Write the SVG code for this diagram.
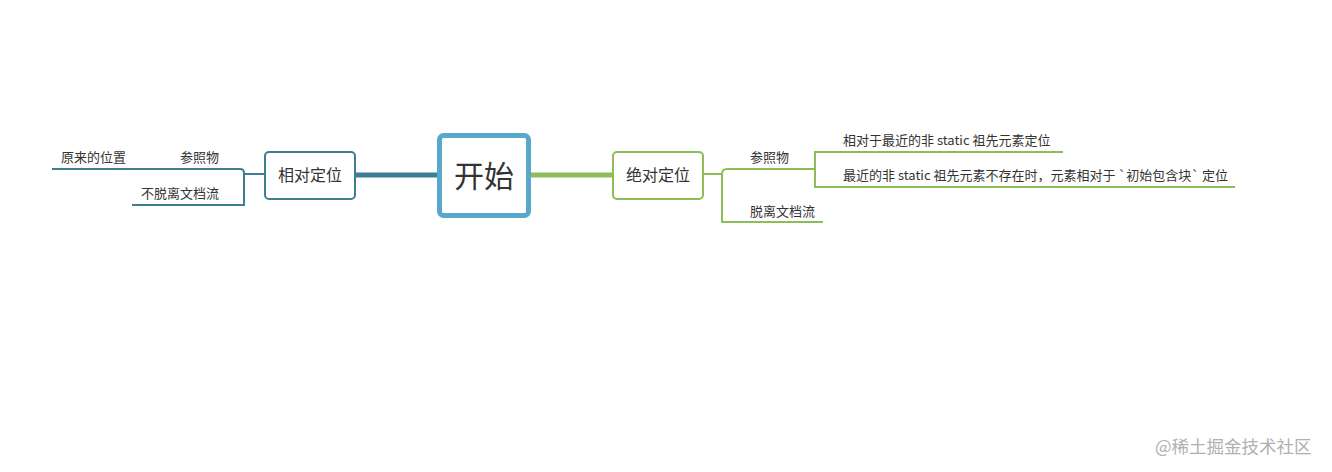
<svg xmlns="http://www.w3.org/2000/svg" width="1332" height="472" viewBox="0 0 1332 472">
<style>
.leaf{font-family:"Noto Sans CJK SC","Liberation Sans",sans-serif;font-size:13px;fill:#333}
.node{font-family:"Noto Sans CJK SC","Liberation Sans",sans-serif;font-size:16px;fill:#333;text-anchor:middle}
.big{font-size:30px}
.teal{stroke:#3f7d94;fill:none}
.green{stroke:#8cbd59;fill:none}
</style>
<rect width="1332" height="472" fill="#fff"/>
<g id="connectors" stroke-linecap="butt">
  <line x1="355" y1="175" x2="437" y2="175" class="teal" stroke-width="5"/>
  <line x1="531" y1="175" x2="613" y2="175" class="green" stroke-width="5"/>
  <path d="M264 174 H244 M52 169 H240 Q244 169 244 173 V205 H132" class="teal" stroke-width="2"/>
  <path d="M703 174 H722 M815 169 H727 Q722 169 722 174 V222 H823" class="green" stroke-width="2"/>
  <path d="M1063 152 H815 V187 H1235" class="green" stroke-width="2"/>
</g>
<g id="center">
  <rect x="439.5" y="135.5" width="89" height="80" rx="4" fill="#fff" stroke="#5aa7cc" stroke-width="5"/>
  <text x="484" y="187" class="node big">开始</text>
</g>
<g id="rel">
  <rect x="265" y="152" width="90" height="47" rx="4" fill="#fff" class="teal" stroke-width="2"/>
  <text x="310" y="181" class="node">相对定位</text>
</g>
<g id="abs">
  <rect x="613" y="152" width="90" height="47" rx="4" fill="#fff" class="green" stroke-width="2"/>
  <text x="658" y="181" class="node">绝对定位</text>
</g>
<g id="rel-ref"><text x="180" y="162" class="leaf">参照物</text></g>
<g id="rel-orig"><text x="61" y="162" class="leaf">原来的位置</text></g>
<g id="rel-flow"><text x="141" y="198" class="leaf">不脱离文档流</text></g>
<g id="abs-ref"><text x="750" y="162" class="leaf">参照物</text></g>
<g id="abs-ref1"><text x="843" y="145" class="leaf">相对于最近的非 static 祖先元素定位</text></g>
<g id="abs-ref2"><text x="843" y="180" class="leaf">最近的非 static 祖先元素不存在时，元素相对于 `初始包含块` 定位</text></g>
<g id="abs-flow"><text x="750" y="216" class="leaf">脱离文档流</text></g>
<text x="1155" y="453" font-family="Noto Sans CJK SC,sans-serif" font-size="17.5" fill="#b0b0b0">@稀土掘金技术社区</text>
</svg>
